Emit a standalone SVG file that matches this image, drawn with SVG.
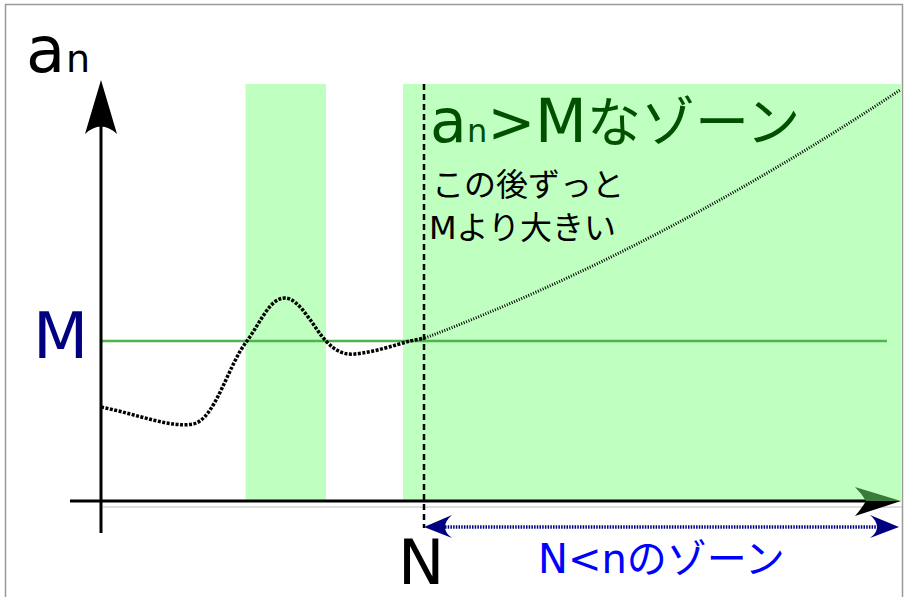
<svg xmlns="http://www.w3.org/2000/svg" width="907" height="597" viewBox="0 0 907 597">
<style>
.t{font-family:"DejaVu Sans","Noto Sans CJK JP",sans-serif}
.zone{fill:#bfffbf}
</style>
<rect x="0" y="0" width="907" height="597" fill="#ffffff"/>
<rect x="5.5" y="4.5" width="897" height="610" fill="none" stroke="#9a9a9a" stroke-width="1.5"/>
<g id="zone1"><rect class="zone" x="245.5" y="84" width="80.5" height="417"/></g>
<g id="zone2"><rect class="zone" x="403" y="84" width="499" height="417"/></g>
<g id="connectors">
  <line x1="101" y1="341" x2="887" y2="341" stroke="#4fb44f" stroke-width="2.5"/>
  <line x1="103" y1="507" x2="902" y2="507" stroke="#bdbdbd" stroke-width="1"/>
  <line x1="101" y1="533" x2="101" y2="125" stroke="#000" stroke-width="3"/>
  <path d="M101,80 L117,134 Q101,119 85,134 Z" fill="#000"/>
  <line x1="70" y1="501" x2="868" y2="501" stroke="#000" stroke-width="3"/>
  <path d="M901,501 L855,487 Q862,494 866,501 Z" fill="#3a7a3a"/>
  <path d="M901,501 L866,501 Q862,508 855,516 Z" fill="#000"/>
  <line x1="424" y1="84" x2="424" y2="528" stroke="#000" stroke-width="2.5" stroke-dasharray="6,4"/>
  <path d="M101,407 C140,415 170,428 193,424 C215,420 228,365 247,341 C262,320 270,298 285,298 C300,298 315,330 326,341 C336,352 345,355 355,354 C375,352 395,345 410,341 L425,338" fill="none" stroke="#000" stroke-width="3.5" stroke-dasharray="3,1.5"/>
  <path d="M425,338 Q662,248 900,90" fill="none" stroke="#000" stroke-width="3" stroke-dasharray="1,1.6"/>
  <line x1="445" y1="527" x2="878" y2="527" stroke="#000080" stroke-width="3.5" stroke-dasharray="1.5,1.2"/>
  <path d="M424,527 L452,515 Q445,521 445,527 Q445,533 452,538 Z" fill="#000080"/>
  <path d="M899,527 L870,515 Q877,521 877,527 Q877,533 870,538 Z" fill="#000080"/>
</g>
<g id="label-an"><text class="t" x="26" y="72" font-size="64" fill="#000">a</text><text class="t" x="66" y="72" font-size="38" fill="#000">n</text></g>
<g id="label-M"><text class="t" x="33" y="358" font-size="64" fill="#000080">M</text></g>
<g id="label-title">
  <text class="t" y="142" fill="#005000"><tspan x="430" font-size="60">a</tspan><tspan x="467" font-size="32">n</tspan><tspan x="487.5" font-size="57">&gt;</tspan><tspan x="535" font-size="60">M</tspan><tspan x="587" font-size="54">なゾーン</tspan></text>
</g>
<g id="label-note">
  <text class="t" x="432" y="196" font-size="32" fill="#000">この後ずっと</text>
  <text class="t" x="429" y="239" font-size="32" fill="#000">Mより大きい</text>
</g>
<g id="label-N"><text class="t" x="398" y="584" font-size="62" fill="#000">N</text></g>
<g id="label-zone"><text class="t" x="538" y="573" font-size="40" fill="#0000ff">N&lt;nのゾーン</text></g>
</svg>
